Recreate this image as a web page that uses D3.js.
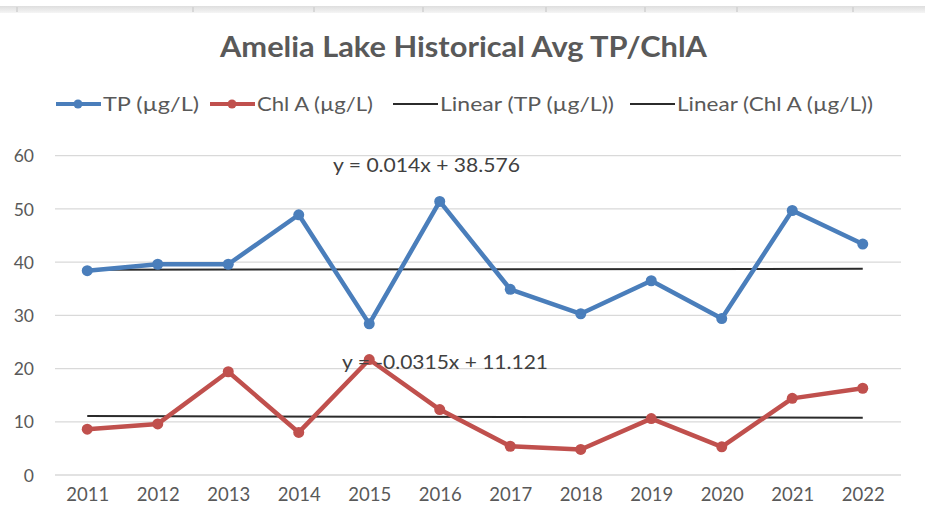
<html lang="en">
<head>
    <meta charset="UTF-8">
    <title>Amelia Lake Historical Avg TP/ChlA</title>
    <script src="https://d3js.org/d3.v7.min.js"></script>
    <style>
        body { margin: 0; background: #fff; }
        text { font-family: Lato, "Open Sans", sans-serif; }
        .grid line { stroke: #d9d9d9; stroke-width: 1.3; }
        .axis text { fill: #595959; }
    </style>
</head>
<body>
    <svg width="926" height="529"></svg>
    <script>
        var years = ["2011", "2012", "2013", "2014", "2015", "2016", "2017", "2018", "2019", "2020", "2021", "2022"];
        var tp = [38.4, 39.6, 39.6, 48.9, 28.4, 51.4, 34.9, 30.3, 36.5, 29.4, 49.7, 43.4];
        var chla = [8.6, 9.6, 19.4, 8.0, 21.7, 12.3, 5.4, 4.8, 10.6, 5.3, 14.4, 16.3];
        var yTicks = [0, 10, 20, 30, 40, 50, 60];
        // trendline coefficients as shown in the chart (x = 1..12)
        var tpTrend = { slope: 0.014, intercept: 38.576 };
        var chlTrend = { slope: -0.0315, intercept: 11.121 };

        var svg = d3.select("svg");

        // spreadsheet strip peeking in at the top
        var strip = svg.append("defs").append("linearGradient")
            .attr("id", "strip").attr("x1", 0).attr("x2", 0).attr("y1", 0).attr("y2", 1);
        strip.append("stop").attr("offset", 0).attr("stop-color", "#dedede");
        strip.append("stop").attr("offset", 1).attr("stop-color", "#f5f5f5");
        svg.append("rect").attr("x", 0).attr("y", 6).attr("width", 925).attr("height", 7)
            .attr("fill", "url(#strip)");
        [17, 193, 314, 423, 546, 645, 737, 853].forEach(function (cx) {
            svg.append("line").attr("x1", cx).attr("x2", cx).attr("y1", 7).attr("y2", 12)
                .attr("stroke", "#d0d0d0").attr("stroke-width", 1.5);
        });

        var x = d3.scalePoint().domain(years).range([52, 898]).padding(0.5);
        var y = d3.scaleLinear().domain([0, 60]).range([475, 155.7]);

        // gridlines
        svg.append("g").attr("class", "grid")
            .selectAll("line").data(yTicks).enter().append("line")
            .attr("x1", 55).attr("x2", 901)
            .attr("y1", function (d) { return y(d); })
            .attr("y2", function (d) { return y(d); });

        // axes, drawn without domain lines/ticks like Excel
        var yAxis = svg.append("g").attr("class", "axis")
            .attr("transform", "translate(34,0)")
            .call(d3.axisLeft(y).tickValues(yTicks).tickSize(0).tickPadding(0));
        yAxis.select(".domain").remove();
        yAxis.selectAll("text").attr("dy", "0.35em").attr("font-size", 17.5);

        var xAxis = svg.append("g").attr("class", "axis")
            .attr("transform", "translate(0,488)")
            .call(d3.axisBottom(x).tickSize(0).tickPadding(0));
        xAxis.select(".domain").remove();
        xAxis.selectAll("text").attr("font-size", 18.5);

        // trend lines
        function trendPts(t) {
            return [[years[0], t.intercept + t.slope * 1],
                    [years[years.length - 1], t.intercept + t.slope * years.length]];
        }
        var line = d3.line()
            .x(function (d) { return x(d[0]); })
            .y(function (d) { return y(d[1]); });

        [tpTrend, chlTrend].forEach(function (t) {
            svg.append("path").datum(trendPts(t))
                .attr("fill", "none").attr("stroke", "#2b2b2b").attr("stroke-width", 2)
                .attr("d", line);
        });

        // series
        var series = [
            { vals: tp, color: "#4a7ebb" },
            { vals: chla, color: "#c0504d" }
        ];
        series.forEach(function (s) {
            var pts = years.map(function (yr, i) { return [yr, s.vals[i]]; });
            svg.append("path").datum(pts)
                .attr("fill", "none").attr("stroke", s.color)
                .attr("stroke-width", 4.5).attr("stroke-linejoin", "round")
                .attr("d", line);
            svg.append("g").selectAll("circle").data(pts).enter().append("circle")
                .attr("cx", function (d) { return x(d[0]); })
                .attr("cy", function (d) { return y(d[1]); })
                .attr("r", 5.5).attr("fill", s.color);
        });

        // trend equations
        svg.append("text").attr("x", 333).attr("y", 172)
            .attr("fill", "#404040").attr("font-size", 20)
            .attr("textLength", 187).attr("lengthAdjust", "spacingAndGlyphs")
            .text("y = 0.014x + 38.576");
        svg.append("text").attr("x", 342).attr("y", 369)
            .attr("fill", "#404040").attr("font-size", 20)
            .attr("textLength", 206).attr("lengthAdjust", "spacingAndGlyphs")
            .text("y = -0.0315x + 11.121");

        // title
        svg.append("text").attr("x", 220).attr("y", 57)
            .attr("fill", "#595959").attr("font-size", 29).attr("font-weight", 700)
            .attr("textLength", 487).attr("lengthAdjust", "spacingAndGlyphs")
            .text("Amelia Lake Historical Avg TP/ChlA");

        // legend
        var legendItems = [
            { label: "TP (µg/L)", color: "#4a7ebb", marker: true, x: 56, w: 96 },
            { label: "Chl A (µg/L)", color: "#c0504d", marker: true, x: 210, w: 116 },
            { label: "Linear (TP (µg/L))", color: "#2b2b2b", marker: false, x: 393, w: 174 },
            { label: "Linear (Chl A (µg/L))", color: "#2b2b2b", marker: false, x: 630, w: 196 }
        ];
        var lg = svg.append("g").attr("transform", "translate(0,104)");
        legendItems.forEach(function (d) {
            lg.append("line").attr("x1", d.x).attr("x2", d.x + 45)
                .attr("stroke", d.color).attr("stroke-width", d.marker ? 4 : 1.8);
            if (d.marker) {
                lg.append("circle").attr("cx", d.x + 22).attr("cy", 0).attr("r", 4.5).attr("fill", d.color);
            }
            lg.append("text").attr("x", d.x + 47).attr("y", 0).attr("dy", "0.36em")
                .attr("fill", "#595959").attr("font-size", 20)
                .attr("textLength", d.w).attr("lengthAdjust", "spacingAndGlyphs")
                .text(d.label);
        });
    </script>
</body>
</html>
